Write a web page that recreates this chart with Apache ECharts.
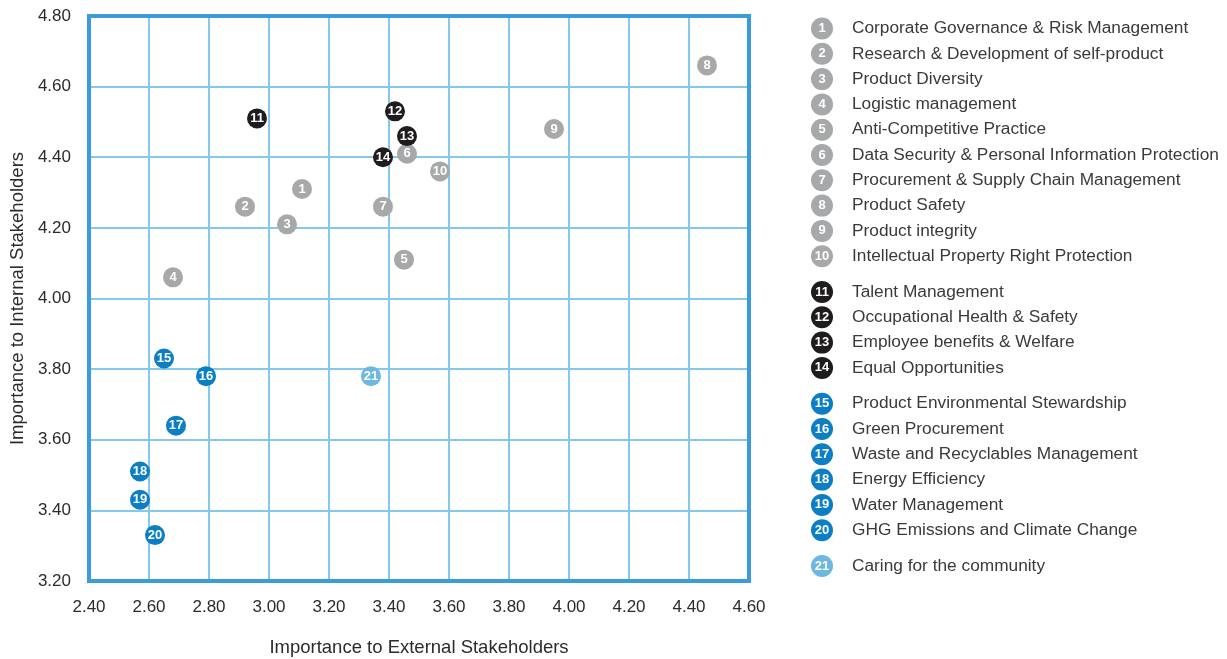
<!DOCTYPE html>
<html>
<head>
<meta charset="utf-8">
<script src="https://cdn.jsdelivr.net/npm/echarts@6/dist/echarts.min.js"></script>
<style>
  html, body { margin: 0; padding: 0; background: #fff; }
  #chart { width: 1227px; height: 659px; }
</style>
</head>
<body>
<div id="chart"></div>
<script>
// topic names, numbered 1..21
var topics = [
  'Corporate Governance & Risk Management',
  'Research & Development of self-product',
  'Product Diversity',
  'Logistic management',
  'Anti-Competitive Practice',
  'Data Security & Personal Information Protection',
  'Procurement & Supply Chain Management',
  'Product Safety',
  'Product integrity',
  'Intellectual Property Right Protection',
  'Talent Management',
  'Occupational Health & Safety',
  'Employee benefits & Welfare',
  'Equal Opportunities',
  'Product Environmental Stewardship',
  'Green Procurement',
  'Waste and Recyclables Management',
  'Energy Efficiency',
  'Water Management',
  'GHG Emissions and Climate Change',
  'Caring for the community'
];
// importance to external stakeholders (x)
var externalScore = [3.11, 2.92, 3.06, 2.68, 3.45, 3.46, 3.38, 4.46, 3.95, 3.57,
                     2.96, 3.42, 3.46, 3.38, 2.65, 2.79, 2.69, 2.57, 2.57, 2.62, 3.34];
// importance to internal stakeholders (y)
var internalScore = [4.31, 4.26, 4.21, 4.06, 4.11, 4.41, 4.26, 4.66, 4.48, 4.36,
                     4.51, 4.53, 4.46, 4.40, 3.83, 3.78, 3.64, 3.51, 3.43, 3.33, 3.78];
// group of each topic: 0 governance/product, 1 employees, 2 environment, 3 community
var topicGroup = [0,0,0,0,0,0,0,0,0,0, 1,1,1,1, 2,2,2,2,2,2, 3];
var groupColors = ['#a7a8aa', '#1f1c1d', '#0b7ec6', '#6cb8e2'];

var xTicks = { min: 2.4, max: 4.6, step: 0.2 };
var yTicks = { min: 3.2, max: 4.8, step: 0.2 };

var font = '"Liberation Sans", Arial, Helvetica, sans-serif';

var series = groupColors.map(function (c, g) {
  var data = [];
  for (var i = 0; i < topics.length; i++) {
    if (topicGroup[i] === g) data.push([externalScore[i], internalScore[i], i + 1]);
  }
  return {
    type: 'scatter',
    symbol: 'circle',
    symbolSize: 20,
    itemStyle: { color: c, opacity: 1 },
    label: {
      show: true,
      position: 'inside',
      formatter: function (p) { return p.value[2]; },
      color: '#fff',
      fontWeight: 'bold',
      fontSize: 13,
      fontFamily: font
    },
    data: data,
    z: 5
  };
});

// legend built as graphic: numbered circle + name
var legendItems = [];
var rowY = 28.5;
for (var i = 0; i < topics.length; i++) {
  if (i > 0 && topicGroup[i] !== topicGroup[i - 1]) rowY += 10.5;
  legendItems.push({
    type: 'group',
    x: 822,
    y: rowY,
    children: [
      { type: 'circle', shape: { cx: 0, cy: 0, r: 11 }, style: { fill: groupColors[topicGroup[i]] } },
      { type: 'text', x: 0, y: 0, style: {
          text: String(i + 1), fill: '#fff', font: 'bold 13px ' + font,
          textAlign: 'center', textVerticalAlign: 'middle' } },
      { type: 'text', x: 30, y: 0, style: {
          text: topics[i], fill: '#3a3a3a', font: '17.3px ' + font,
          textAlign: 'left', textVerticalAlign: 'middle' } }
    ]
  });
  rowY += 25.3;
}

var chart = echarts.init(document.getElementById('chart'));
chart.setOption({
  backgroundColor: '#ffffff',
  animation: false,
  grid: {
    left: 89, top: 16, right: 478, bottom: 78,
    outerBoundsMode: 'none',
    containLabel: false,
    show: true,
    borderColor: '#3c9cda',
    borderWidth: 4,
    backgroundColor: 'transparent',
    z: 3
  },
  xAxis: {
    type: 'value',
    min: xTicks.min, max: xTicks.max, interval: xTicks.step,
    name: 'Importance to External Stakeholders',
    nameLocation: 'middle',
    nameGap: 57,
    nameTextStyle: { color: '#2b2b2b', fontSize: 18.5, fontFamily: font },
    axisLine: { show: false },
    axisTick: { show: false },
    axisLabel: {
      color: '#2b2b2b', fontSize: 17, fontFamily: font, margin: 18,
      formatter: function (v) { return v.toFixed(2); }
    },
    splitLine: { show: true, showMinLine: false, showMaxLine: false, lineStyle: { color: '#86c7ec', width: 2 } }
  },
  yAxis: {
    type: 'value',
    min: yTicks.min, max: yTicks.max, interval: yTicks.step,
    name: 'Importance to Internal Stakeholders',
    nameLocation: 'middle',
    nameGap: 62,
    nameTextStyle: { color: '#2b2b2b', fontSize: 18.5, fontFamily: font },
    axisLine: { show: false },
    axisTick: { show: false },
    axisLabel: {
      color: '#2b2b2b', fontSize: 17, fontFamily: font, margin: 18,
      formatter: function (v) { return v.toFixed(2); }
    },
    splitLine: { show: true, showMinLine: false, showMaxLine: false, lineStyle: { color: '#86c7ec', width: 2 } }
  },
  graphic: legendItems,
  series: series
});
</script>
</body>
</html>
